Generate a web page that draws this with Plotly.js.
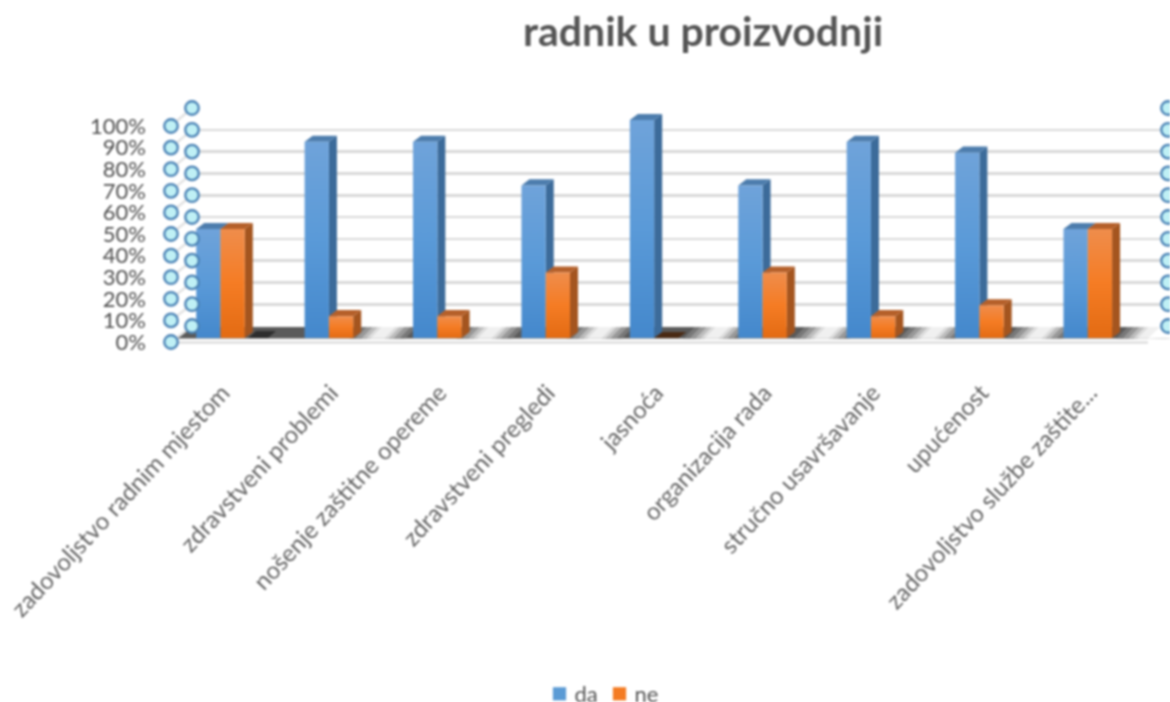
<!DOCTYPE html>
<html><head><meta charset="utf-8">
<script src="https://cdn.plot.ly/plotly-3.0.1.min.js"></script>
<style>html,body{margin:0;padding:0;background:#fff;overflow:hidden}#c{width:1170px;height:702px;filter:blur(0.9px)}</style>
</head><body><div id="c"></div>
<script>
const categories = ["zadovoljstvo radnim mjestom","zdravstveni problemi","nošenje zaštitne opereme","zdravstveni pregledi","jasnoća","organizacija rada","stručno usavršavanje","upućenost","zadovoljstvo službe zaštite..."];
const da = [50,90,90,70,100,70,90,85,50];
const ne = [50,10,10,30,0,30,10,15,50];
const tickVals = [0,10,20,30,40,50,60,70,80,90,100];
const tickText = ["0%","10%","20%","30%","40%","50%","60%","70%","80%","90%","100%"];
const stripeCenters = [383,490,600,717,827,933,1040];

const W=1170,H=702;
const dx=v=>v/W, dy=v=>(H-v)/H;
const idx=categories.map((_,i)=>i);
const bw=0.224, depthX=8/108.4, depthY=2.8;

function faces(vals,offset,colorTop,colorSide,colorZero){
  const top={x:[],y:[]},side={x:[],y:[]},zero={x:[],y:[]};
  vals.forEach((v,i)=>{
    const l=i+offset,r=l+bw;
    const t=v===0?zero:top;
    t.x.push(l,r,r+depthX,l+depthX,l,null);
    t.y.push(v,v,v+depthY,v+depthY,v,null);
    if(v>0){
      side.x.push(r,r+depthX,r+depthX,r,r,null);
      side.y.push(0,depthY,v+depthY,v,0,null);
    }
  });
  const mk=(d,c)=>({x:d.x,y:d.y,xaxis:'x3',yaxis:'y3',type:'scatter',mode:'lines',fill:'toself',fillcolor:c,line:{width:0,color:c},showlegend:false,hoverinfo:'skip'});
  return [mk(side,colorSide),mk(top,colorTop),mk(zero,colorZero)];
}

const decor=[];
function poly(xs,ys,c){decor.push({x:xs,y:ys,xaxis:'x2',yaxis:'y2',type:'scatter',mode:'lines',fill:'toself',fillcolor:c,line:{width:0,color:c},showlegend:false,hoverinfo:'skip'});}
const yT=327,yB=338.5,sk=11;
poly([176,1140,1160,190,176],[yB,yB,yT,yT,yB],'#5a5a5a');
stripeCenters.concat([1150]).forEach(c=>{
  [[28,'#787878'],[22,'#989898'],[16,'#bdbdbd'],[11,'#dcdcdc'],[7,'#f0f0f0']].forEach(s=>{
    const h=s[0];
    poly([c-h-sk/2,c+h-sk/2,c+h+sk/2,c-h+sk/2,c-h-sk/2],[yB,yB,yT,yT,yB],s[1]);
  });
});
poly([1148,1175,1175,1160,1148],[yB,yB,yT,yT,yB],'#ffffff');
poly([248,268,276,256,248],[338,338,331,331,338],'#2e2e2e');
decor.push({x:[178,1148],y:[342.5,342.5],xaxis:'x2',yaxis:'y2',type:'scatter',mode:'lines',line:{color:'#d6d6d6',width:2},showlegend:false,hoverinfo:'skip'});
const diagX=[],diagY=[];
tickVals.forEach(v=>{diagX.push(171,192,null);diagY.push(342-2.16*v,326-2.18*v,null);});
decor.push({x:diagX,y:diagY,xaxis:'x2',yaxis:'y2',type:'scatter',mode:'lines',line:{color:'#e2e2e2',width:2.4},showlegend:false,hoverinfo:'skip'});

const marker={size:13.5,color:'#bff0f5',line:{color:'#4a82b5',width:2.3}};
const circles=[
 {x:tickVals.map(()=>171),y:tickVals,xaxis:'x5',yaxis:'y5',type:'scatter',mode:'markers',marker,showlegend:false,hoverinfo:'skip',cliponaxis:false},
 {x:tickVals.map(()=>192).concat(tickVals.map(()=>1168)),y:tickVals.concat(tickVals),xaxis:'x5',yaxis:'y6',type:'scatter',mode:'markers',marker,showlegend:false,hoverinfo:'skip',cliponaxis:false}
];

const wall={x:[0],y:[0],xaxis:'x',yaxis:'y',type:'scatter',mode:'none',showlegend:false,hoverinfo:'skip'};
const bars=[
 {name:'da',x:idx,y:da,xaxis:'x4',yaxis:'y4',type:'bar',width:bw,offset:-bw,marker:{color:'#5b9bd5',line:{width:0}},cliponaxis:false},
 {name:'ne',x:idx,y:ne,xaxis:'x4',yaxis:'y4',type:'bar',width:bw,offset:0,marker:{color:'#f47b22',line:{width:0}},cliponaxis:false}
];

const hidden={showgrid:false,zeroline:false,showticklabels:false,ticks:'',showline:false,fixedrange:true};
const xDom=[dx(166.3),dx(1142)];
const yDom=[dy(338),dy(338-2.18*110)];
const layout={
 width:W,height:H,margin:{l:0,r:0,t:0,b:0,autoexpand:false},paper_bgcolor:'#fff',plot_bgcolor:'rgba(0,0,0,0)',
 title:{text:'radnik u proizvodnji',x:703/W,xanchor:'center',y:1-32/H,yanchor:'middle',font:{family:'Lato',size:41,weight:700,color:'#555555'}},
 barmode:'overlay',showlegend:true,
 legend:{orientation:'h',x:605/W,xanchor:'center',y:dy(694),yanchor:'middle',font:{family:'Lato',size:22,color:'#555555'},bgcolor:'rgba(0,0,0,0)',itemwidth:30},
 xaxis:Object.assign({},hidden,{domain:[dx(192),dx(1160)],range:[0,1]}),
 yaxis:Object.assign({},hidden,{domain:[dy(326),dy(108)],range:[0,100],showgrid:true,gridcolor:'#d9d9d9',gridwidth:2.6,tickvals:tickVals}),
 xaxis2:Object.assign({},hidden,{domain:[0,1],range:[0,W],anchor:'y2'}),
 yaxis2:Object.assign({},hidden,{domain:[0,1],range:[H,0],anchor:'x2'}),
 xaxis3:Object.assign({},hidden,{domain:xDom,range:[-0.5,8.5],anchor:'y3',tickmode:'array',tickvals:idx,ticktext:categories,showticklabels:true,tickangle:-47,ticklabelstandoff:35,ticklabelshift:2,tickfont:{family:'Lato',size:24,color:'#666666'}}),
 yaxis3:Object.assign({},hidden,{domain:yDom,range:[0,110],anchor:'x3'}),
 xaxis4:Object.assign({},hidden,{overlaying:'x3',range:[-0.5,8.5],anchor:'y4'}),
 yaxis4:Object.assign({},hidden,{overlaying:'y3',range:[0,110],anchor:'x4'}),
 xaxis5:Object.assign({},hidden,{domain:[0,1],range:[0,W],anchor:'y5'}),
 yaxis5:Object.assign({},hidden,{domain:[dy(342),dy(126)],range:[0,100],anchor:'free',position:146/W,side:'left',showticklabels:true,tickmode:'array',tickvals:tickVals,ticktext:tickText,tickfont:{family:'Lato',size:22,color:'#505050'}}),
 yaxis6:Object.assign({},hidden,{domain:[dy(326),dy(108)],range:[0,100],anchor:'x5'})
};
const data=[wall].concat(decor,faces(da,-bw,'#4d7dad','#3c6b9a'),faces(ne,0,'#b5602a','#a4551f','#4a2a14'),bars,circles);
function grad(id,stops,defs){
  const g=document.createElementNS('http://www.w3.org/2000/svg','linearGradient');
  g.setAttribute('id',id);g.setAttribute('x1','0');g.setAttribute('y1','0');g.setAttribute('x2','0');g.setAttribute('y2','1');
  stops.forEach(s=>{const e=document.createElementNS('http://www.w3.org/2000/svg','stop');e.setAttribute('offset',s[0]);e.setAttribute('stop-color',s[1]);g.appendChild(e);});
  defs.appendChild(g);
}
Plotly.newPlot('c',data,layout,{displayModeBar:false,staticPlot:true}).then(gd=>{
  const svg=gd.querySelector('.main-svg');
  const defs=svg.querySelector('defs');
  grad('gBlue',[[0,'#6fa3da'],[0.5,'#5a9ad8'],[1,'#4488cc']],defs);
  grad('gOrange',[[0,'#ef8d4c'],[0.5,'#f57c24'],[1,'#e36b13']],defs);
  const tr=gd.querySelectorAll('.barlayer .trace.bars');
  const ids=['gBlue','gOrange'];
  tr.forEach((t,i)=>t.querySelectorAll('.point path').forEach(p=>{p.style.fill='url(#'+ids[i]+')';}));
  const box=gd.querySelector('.legend .scrollbox');
  if(box) box.removeAttribute('clip-path');
  const targets=[559.5,619.5];
  gd.querySelectorAll('.legend .traces').forEach((t,i)=>{
    const sw=t.querySelector('.legendpoints path');
    const txt=t.querySelector('.legendtext');
    const r=sw.getBoundingClientRect();
    const m=(t.getAttribute('transform')||'').match(/translate\(([-\d.]+)[ ,]*([-\d.]+)?/);
    const shift=targets[i]-(r.left+r.right)/2;
    const tx=parseFloat(m?m[1]:0)+shift, ty=parseFloat(m&&m[2]?m[2]:0);
    t.setAttribute('transform','translate('+tx+','+ty+')');
    sw.setAttribute('transform',(sw.getAttribute('transform')||'')+' scale(1.1)');
    txt.setAttribute('x',parseFloat(txt.getAttribute('x'))-5);
  });
});
</script></body></html>
